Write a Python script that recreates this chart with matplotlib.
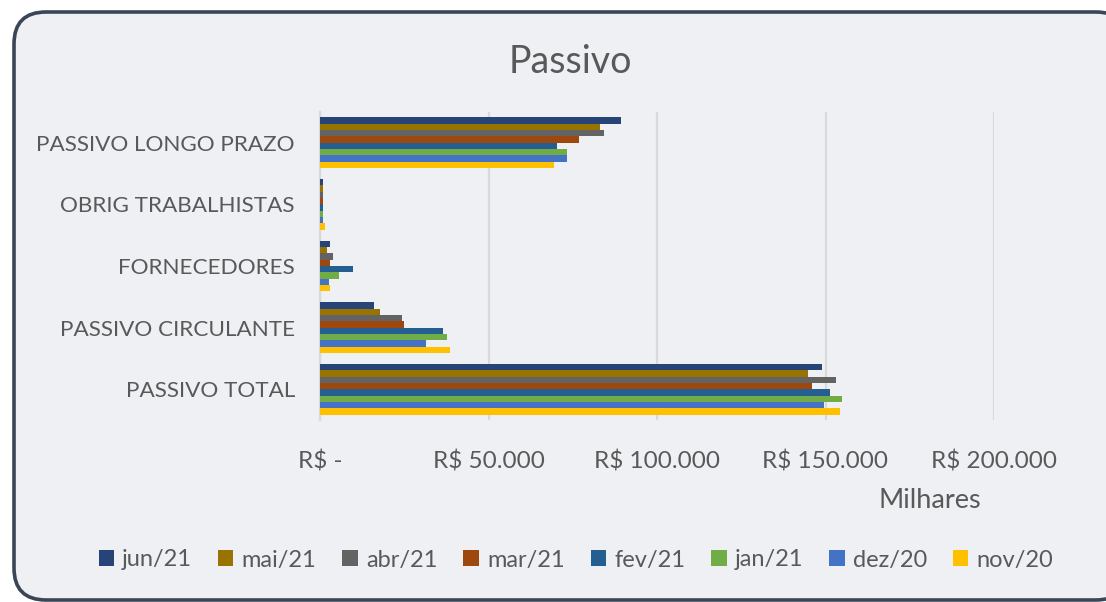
import numpy as np
import matplotlib.pyplot as plt
from matplotlib.patches import FancyBboxPatch, Patch

plt.rcParams['font.family'] = ['Lato', 'DejaVu Sans']

# data (R$ thousands), categories bottom -> top
categories = ['PASSIVO TOTAL', 'PASSIVO CIRCULANTE', 'FORNECEDORES',
              'OBRIG TRABALHISTAS', 'PASSIVO LONGO PRAZO']
series = ['jun/21', 'mai/21', 'abr/21', 'mar/21', 'fev/21', 'jan/21', 'dez/20', 'nov/20']
colors = ['#264478', '#997300', '#636363', '#9E480E', '#255E91', '#70AD47', '#4472C4', '#FFC000']

jun21 = [149.1, 16.0, 3.1, 1.0, 89.2]
mai21 = [144.8, 17.8, 2.2, 0.9, 83.0]
abr21 = [153.0, 24.3, 4.0, 0.9, 84.4]
mar21 = [146.0, 24.9, 3.1, 0.9, 76.9]
fev21 = [151.3, 36.4, 9.9, 0.9, 70.3]
jan21 = [154.8, 37.6, 5.7, 0.9, 73.4]
dez20 = [149.6, 31.6, 2.7, 0.9, 73.4]
nov20 = [154.3, 38.5, 3.1, 1.4, 69.4]
values = [jun21, mai21, abr21, mar21, fev21, jan21, dez20, nov20]

xticks = [0, 50000, 100000, 150000, 200000]
xticklabels = ['R$ -', 'R$ 50.000', 'R$ 100.000', 'R$ 150.000', 'R$ 200.000']

W, H = 1106, 602
fig = plt.figure(figsize=(W / 100, H / 100), dpi=100)
fig.patch.set_facecolor('white')

# background panel with rounded border
bg = fig.add_axes([0, 0, 1, 1], zorder=0)
bg.set_xlim(0, W)
bg.set_ylim(H, 0)
bg.axis('off')
bg.add_patch(FancyBboxPatch((14, 12), 1114, 588, boxstyle='round,pad=0,rounding_size=32',
                            facecolor='#EEF0F4', edgecolor='#3A4555', linewidth=2.6))

ax = fig.add_axes([320 / W, 1 - 420 / H, (994 - 320) / W, (420 - 112) / H], zorder=1)
ax.set_facecolor('none')

y = np.arange(len(categories))
h = 0.103
for j, (name, vals, c) in enumerate(zip(series, values, colors)):
    ax.barh(y + (3.5 - j) * h, np.array(vals) * 1000, height=h, color=c, label=name, zorder=3)

ax.set_ylim(-0.5, len(categories) - 0.5)
ax.set_xlim(0, 200000)
ax.set_xticks(xticks)
ax.set_xticklabels(xticklabels, fontsize=17.5, color='#595959')
ax.set_yticks(y)
ax.set_yticklabels(categories, fontsize=16.2, color='#595959')
ax.tick_params(axis='x', length=0, pad=22)
ax.tick_params(axis='y', length=0, pad=18)
ax.xaxis.grid(True, color='#D9D9D9', linewidth=1.6, zorder=0)
for s in ['top', 'right', 'bottom']:
    ax.spines[s].set_visible(False)
ax.spines['left'].set_color('#D9D9D9')
ax.spines['left'].set_linewidth(1.6)

fig.text(570 / W, 1 - 62 / H, 'Passivo', ha='center', va='center', fontsize=27, color='#595959')
fig.text(930 / W, 1 - 500 / H, 'Milhares', ha='center', va='center', fontsize=19.5, color='#595959')

handles = [Patch(facecolor=c, label=n) for n, c in zip(series, colors)]
fig.legend(handles=handles, loc='center', bbox_to_anchor=(576 / W, 1 - 560 / H), ncol=8,
           frameon=False, fontsize=17, handlelength=0.65, handleheight=0.65,
           handletextpad=0.35, columnspacing=1.1, labelcolor='#595959')

fig.savefig('out.png', dpi=100)
